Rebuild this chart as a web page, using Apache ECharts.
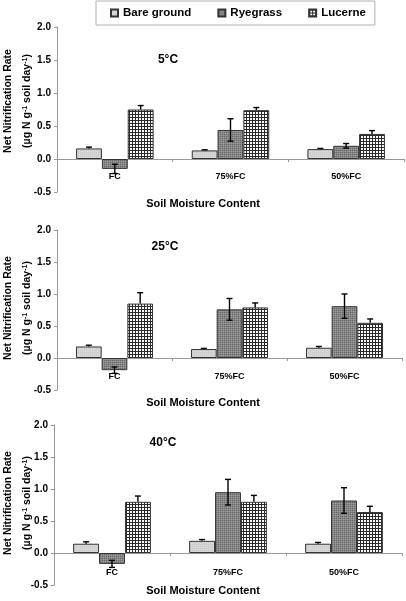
<!DOCTYPE html>
<html><head><meta charset="utf-8">
<script src="https://cdn.jsdelivr.net/npm/echarts@6/dist/echarts.min.js"></script>
<style>html,body{margin:0;padding:0;background:#fff}#c{width:406px;height:601px}</style>
</head><body><div id="c"></div>
<script>
const categories = ['FC', '75%FC', '50%FC'];
const seriesNames = ['Bare ground', 'Ryegrass', 'Lucerne'];
const temps = ['5°C', '25°C', '40°C'];
const yTicks = [-0.5, 0.0, 0.5, 1.0, 1.5, 2.0];

// 5°C
const bare5 = [0.16, 0.13, 0.15];
const bare5Err = [0.02, 0.01, 0.01];
const rye5 = [-0.15, 0.44, 0.20];
const rye5Err = [0.07, 0.17, 0.035];
const luc5 = [0.75, 0.74, 0.38];
const luc5Err = [0.06, 0.04, 0.05];
// 25°C
const bare25 = [0.18, 0.14, 0.16];
const bare25Err = [0.02, 0.01, 0.02];
const rye25 = [-0.19, 0.76, 0.81];
const rye25Err = [0.05, 0.17, 0.19];
const luc25 = [0.85, 0.79, 0.55];
const luc25Err = [0.17, 0.07, 0.06];
// 40°C
const bare40 = [0.145, 0.19, 0.145];
const bare40Err = [0.03, 0.02, 0.02];
const rye40 = [-0.17, 0.95, 0.82];
const rye40Err = [0.055, 0.20, 0.20];
const luc40 = [0.80, 0.80, 0.64];
const luc40Err = [0.09, 0.10, 0.09];

const panels = [
  {vals: [bare5, rye5, luc5], errs: [bare5Err, rye5Err, luc5Err]},
  {vals: [bare25, rye25, luc25], errs: [bare25Err, rye25Err, luc25Err]},
  {vals: [bare40, rye40, luc40], errs: [bare40Err, rye40Err, luc40Err]}
];

function pattern(size, draw) {
  const c = document.createElement('canvas');
  c.width = size; c.height = size;
  draw(c.getContext('2d'));
  return {image: c, repeat: 'repeat'};
}
const fills = [
  pattern(2, ctx => { ctx.fillStyle = '#d6d6d6'; ctx.fillRect(0,0,2,2); ctx.fillStyle = '#c8c8c8'; ctx.fillRect(0,0,1,1); }),
  pattern(2, ctx => { ctx.fillStyle = '#888888'; ctx.fillRect(0,0,2,2); ctx.fillStyle = '#666666'; ctx.fillRect(0,0,1,1); ctx.fillStyle = '#9a9a9a'; ctx.fillRect(1,1,1,1); }),
  pattern(3, ctx => { ctx.fillStyle = '#ffffff'; ctx.fillRect(0,0,3,3); ctx.fillStyle = '#2a2a2a'; ctx.fillRect(0,0,3,1); ctx.fillRect(0,0,1,3); })
];
const twoSided = [false, true, false];

const FONT = '"Liberation Sans", Arial, sans-serif';
const grids = [
  {left: 57, top: 27, width: 347, height: 165},
  {left: 57, top: 230, width: 345, height: 160},
  {left: 54, top: 425, width: 348, height: 160}
];
const xLabelMargin = [-19.5, -18, -16.5];
const xTitleY = [205, 404, 592];
const yNameY = [101, 308, 503];
const tempPos = [[168, 60], [165, 247], [163, 443]];

const CAT_GAP = 0.33;
const option = {
  animation: false,
  backgroundColor: '#fff',
  legend: {
    data: seriesNames,
    left: 96, top: 1,
    icon: 'rect', itemWidth: 7, itemHeight: 7, itemGap: 26,
    padding: [6, 9, 6, 14],
    borderColor: '#b0b0b0', borderWidth: 1,
    textStyle: {fontFamily: FONT, fontWeight: 'bold', fontSize: 11.5, color: '#000'}
  },
  grid: grids.map(g => Object.assign({containLabel: false}, g)),
  xAxis: grids.map((g, i) => ({
    type: 'category', gridIndex: i, data: categories,
    axisLine: {onZero: true, lineStyle: {color: '#999', width: 1}},
    axisTick: {show: true, length: 3, lineStyle: {color: '#999'}},
    axisLabel: {margin: xLabelMargin[i], fontFamily: FONT, fontWeight: 'bold', fontSize: 9, color: '#000'},
    splitLine: {show: false}
  })),
  yAxis: grids.map((g, i) => ({
    type: 'value', gridIndex: i, min: -0.5, max: 2.0, interval: 0.5,
    axisLine: {show: true, lineStyle: {color: '#999', width: 1}},
    axisTick: {show: true, length: 3, lineStyle: {color: '#999'}},
    axisLabel: {margin: 6, fontFamily: FONT, fontWeight: 'bold', fontSize: 10, color: '#000',
      formatter: v => v.toFixed(1)},
    splitLine: {show: false}
  })),
  series: [],
  graphic: []
};

panels.forEach((p, gi) => {
  p.vals.forEach((vals, si) => {
    option.series.push({
      type: 'bar', name: seriesNames[si], xAxisIndex: gi, yAxisIndex: gi,
      data: vals, barGap: '0%', barCategoryGap: (CAT_GAP * 100) + '%',
      itemStyle: {color: fills[si], borderColor: '#333', borderWidth: 1},
      emphasis: {disabled: true}
    });
  });
  p.vals.forEach((vals, si) => {
    const errs = p.errs[si];
    option.series.push({
      type: 'custom', name: 'err' + gi + '_' + si, xAxisIndex: gi, yAxisIndex: gi, z: 5,
      data: vals.map((v, k) => [k, v, errs[k]]),
      renderItem: (params, api) => {
        const k = api.value(0), v = api.value(1), e = api.value(2);
        const band = api.size([1, 0])[0];
        const bw = band * (1 - CAT_GAP) / 3;
        const c = api.coord([k, v]);
        const x = c[0] + (si - 1) * bw;
        const yTop = api.coord([k, v + e])[1];
        const yBot = twoSided[si] ? api.coord([k, v - e])[1] : c[1];
        const cap = 3;
        const st = {stroke: '#000', lineWidth: 1.4};
        const ch = [
          {type: 'line', shape: {x1: x, y1: yTop, x2: x, y2: yBot}, style: st},
          {type: 'line', shape: {x1: x - cap, y1: yTop, x2: x + cap, y2: yTop}, style: st}
        ];
        if (twoSided[si]) ch.push({type: 'line', shape: {x1: x - cap, y1: yBot, x2: x + cap, y2: yBot}, style: st});
        return {type: 'group', children: ch};
      }
    });
  });
  option.graphic.push({
    type: 'text', left: 'center', top: xTitleY[gi] - 7,
    style: {text: 'Soil Moisture Content', fontFamily: FONT, fontWeight: 'bold', fontSize: 11, fill: '#000'}
  });
  option.graphic.push({
    type: 'text', x: tempPos[gi][0], y: tempPos[gi][1],
    style: {text: temps[gi], fontFamily: FONT, fontWeight: 'bold', fontSize: 12, fill: '#000', align: 'center', verticalAlign: 'middle'}
  });
  option.graphic.push({
    type: 'text', x: 8, y: yNameY[gi], rotation: Math.PI / 2,
    style: {text: 'Net Nitrification Rate', fontFamily: FONT, fontWeight: 'bold', fontSize: 10.5, fill: '#000', align: 'center', verticalAlign: 'middle'}
  });
  option.graphic.push({
    type: 'text', x: 27, y: yNameY[gi], rotation: Math.PI / 2,
    style: {text: '(µg N g{sup|-1} soil day{sup|-1})', fontFamily: FONT, fontWeight: 'bold', fontSize: 10.5, fill: '#000', align: 'center', verticalAlign: 'middle',
      rich: {sup: {fontFamily: FONT, fontWeight: 'bold', fontSize: 7, verticalAlign: 'top', fill: '#000'}}}
  });
});

const chart = echarts.init(document.getElementById('c'), null, {renderer: 'canvas'});
chart.setOption(option);
</script>
</body></html>
